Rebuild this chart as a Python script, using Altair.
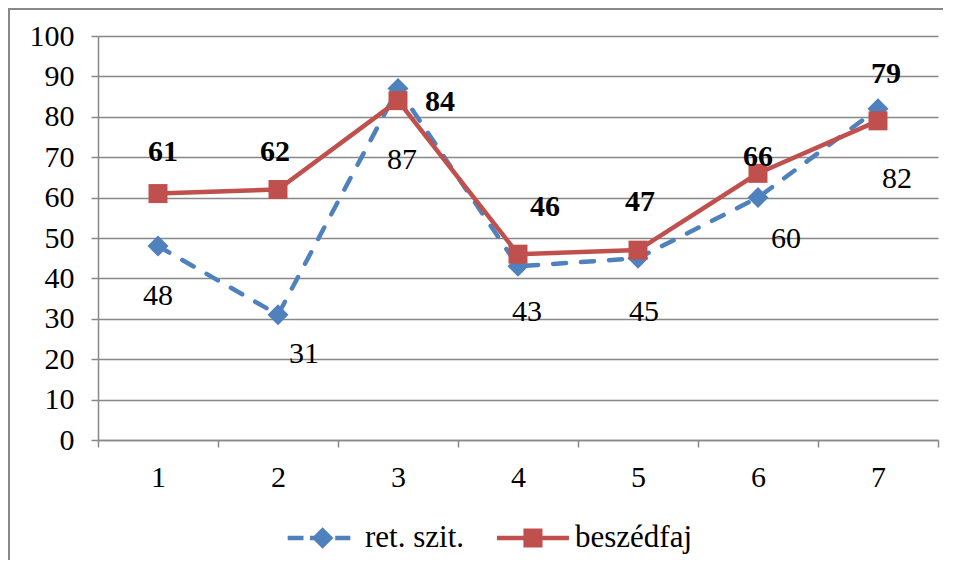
import altair as alt
import pandas as pd

# ---- data ----
categories = ["1", "2", "3", "4", "5", "6", "7"]
ret_szit = [48, 31, 87, 43, 45, 60, 82]
beszedfaj = [61, 62, 84, 46, 47, 66, 79]
series_names = ["ret. szit.", "beszédfaj"]

# label placement offsets (px, relative to each point), as in the original
ret_label_dx = [0, 26, 4, 9, 6, 28, 19]
ret_label_dy = [50, 39, 71, 46, 54, 41, 70]
besz_label_dx = [5, -3, 42, 27, 2, 0, 8]
besz_label_dy = [-42, -38, 1, -47, -48, -16, -47]

BLUE = "#4F81BD"
RED = "#C0504D"
GRAY = "#888888"
FONT = "Liberation Serif"

df = pd.DataFrame({
    "cat": categories * 2,
    "series": [series_names[0]] * len(categories) + [series_names[1]] * len(categories),
    "value": ret_szit + beszedfaj,
    "idx": list(range(len(categories))) * 2,
})

x_enc = alt.X(
    "cat:N", sort=categories, bandPosition=0.5,
    scale=alt.Scale(type="band", domain=categories, paddingInner=0, paddingOuter=0),
    axis=alt.Axis(title=None, labelAngle=0, tickBand="extent", grid=False,
                  tickSize=7, tickColor=GRAY, tickWidth=1.5,
                  domainColor=GRAY, domainWidth=1.5,
                  labelFont=FONT, labelFontSize=30, labelColor="black",
                  labelFontWeight="normal", labelPadding=15),
)
y_enc = alt.Y(
    "value:Q",
    scale=alt.Scale(domain=[0, 100], nice=False, zero=True),
    axis=alt.Axis(title=None, values=list(range(0, 101, 10)), grid=True,
                  gridColor=GRAY, gridWidth=1.5,
                  tickSize=7, tickColor=GRAY, tickWidth=1.5,
                  domainColor=GRAY, domainWidth=1.5,
                  labelFont=FONT, labelFontSize=30, labelColor="black",
                  labelFontWeight="normal", labelPadding=17),
)

base = alt.Chart(df)

# outer frame
frame = alt.Chart(pd.DataFrame({"a": [0]})).mark_rect(
    fill=None, stroke=GRAY, strokeWidth=2
).encode(x=alt.value(-89), x2=alt.value(900), y=alt.value(-27), y2=alt.value(700))

blue_line = base.transform_filter(alt.datum.series == series_names[0]).mark_line(
    color=BLUE, strokeWidth=4.5, strokeDash=[13, 15], strokeCap="round"
).encode(x=x_enc, y=y_enc)
blue_pts = base.transform_filter(alt.datum.series == series_names[0]).mark_point(
    shape="diamond", filled=True, size=441, color=BLUE, opacity=1
).encode(x=x_enc, y=y_enc)
red_line = base.transform_filter(alt.datum.series == series_names[1]).mark_line(
    color=RED, strokeWidth=4.5
).encode(x=x_enc, y=y_enc)
red_pts = base.transform_filter(alt.datum.series == series_names[1]).mark_point(
    shape="square", filled=True, size=361, color=RED, opacity=1
).encode(x=x_enc, y=y_enc)

# legend carrier (invisible marks, custom legend symbols: line + marker)
path_blue = ("M-1.74,-0.125H-0.86V0.125H-1.74Z M-0.5,-0.125H0.2V0.125H-0.5Z "
             "M0.2,-0.6L0.8,0L0.2,0.6L-0.4,0Z M0.9,-0.125H1.74V0.125H0.9Z")
path_red = "M-1.78,-0.125H2.22V0.125H-1.78Z M-0.31,-0.53H0.75V0.53H-0.31Z"

legend = alt.Legend(
    title=None, orient="none", legendX=203, legendY=484, direction="horizontal",
    symbolSize=1296, symbolStrokeWidth=0, symbolOpacity=1,
    labelFont=FONT, labelFontSize=31, labelColor="black", labelFontWeight="normal",
    labelOffset=28, columnPadding=32, padding=0,
)
legend_layer = base.mark_point(filled=True, opacity=0).encode(
    x=x_enc, y=y_enc,
    color=alt.Color("series:N", scale=alt.Scale(domain=series_names, range=[BLUE, RED]), legend=legend),
    shape=alt.Shape("series:N", scale=alt.Scale(domain=series_names, range=[path_blue, path_red]), legend=legend),
)

text_layers = []
for i in range(len(categories)):
    text_layers.append(
        base.transform_filter((alt.datum.series == series_names[0]) & (alt.datum.idx == i))
        .mark_text(font=FONT, fontSize=30, fontWeight="normal", color="black",
                   dx=ret_label_dx[i], dy=ret_label_dy[i])
        .encode(x=x_enc, y=y_enc, text="value:Q")
    )
    text_layers.append(
        base.transform_filter((alt.datum.series == series_names[1]) & (alt.datum.idx == i))
        .mark_text(font=FONT, fontSize=30, fontWeight="bold", color="black",
                   dx=besz_label_dx[i], dy=besz_label_dy[i])
        .encode(x=x_enc, y=y_enc, text="value:Q")
    )

chart = alt.layer(
    frame, blue_line, blue_pts, red_line, red_pts, legend_layer, *text_layers
).properties(
    width=840, height=404,
    padding={"left": 90, "top": 28, "right": 5, "bottom": 120},
    autosize=alt.AutoSizeParams(type="none"),
).configure_view(stroke=None)

chart.save("out.html", embed_options={"renderer": "svg", "actions": False})
